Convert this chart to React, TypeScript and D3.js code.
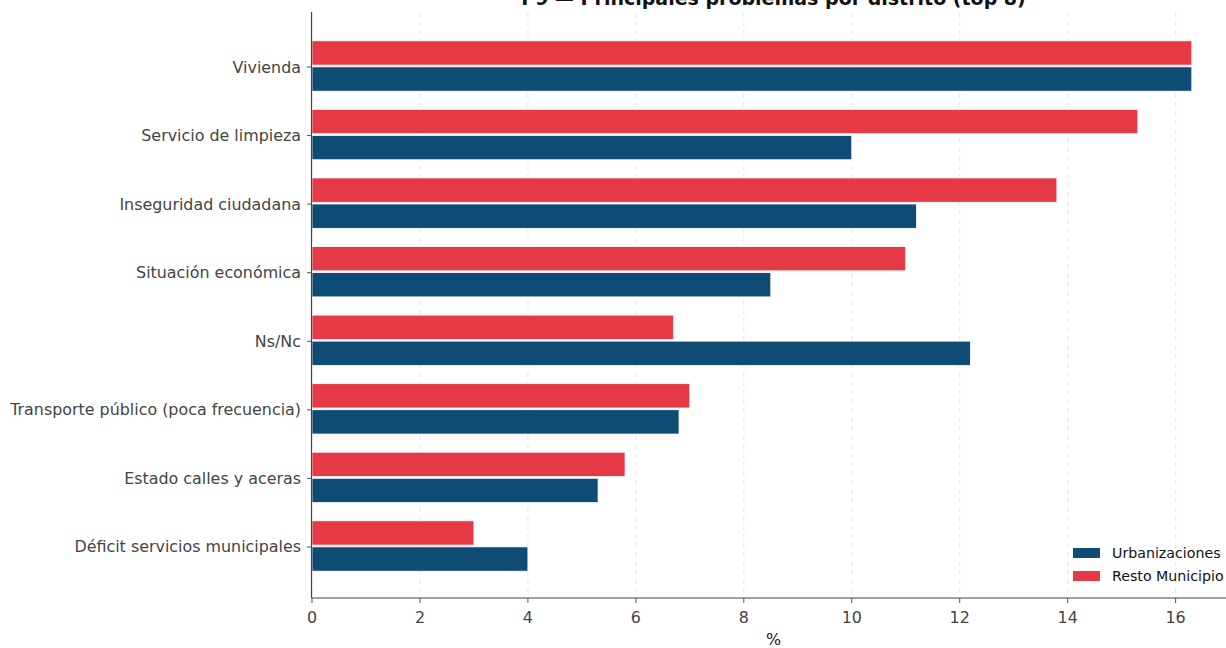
import React from "react";
import * as d3 from "d3";

const categories = [
  "Vivienda",
  "Servicio de limpieza",
  "Inseguridad ciudadana",
  "Situación económica",
  "Ns/Nc",
  "Transporte público (poca frecuencia)",
  "Estado calles y aceras",
  "Déficit servicios municipales",
];
const urbanizaciones = [16.3, 10.0, 11.2, 8.5, 12.2, 6.8, 5.3, 4.0];
const restoMunicipio = [16.3, 15.3, 13.8, 11.0, 6.7, 7.0, 5.8, 3.0];
const xTicks = [0, 2, 4, 6, 8, 10, 12, 14, 16];
const seriesNames = ["Urbanizaciones", "Resto Municipio"];
const colors = ["#0f4c75", "#e63946"];
const title = "P9 — Principales problemas por distrito (top 8)";
const xLabel = "%";

export default function App() {
  const W = 1226;
  const H = 648;
  const left = 312;
  const right = 1235;
  const top = 12;
  const bottom = 598;
  const x = d3.scaleLinear().domain([0, 17.1]).range([left, right]);
  const y = d3.scaleLinear().domain([0, 7]).range([66, 66 + 68.57 * 7]);
  const step = 68.57;
  const barH = 0.355 * step;
  const off = 0.19 * step;
  const font = "DejaVu Sans, sans-serif";
  const tickFs = 15.9;

  return (
    <svg width={W} height={H} style={{ position: "absolute", left: 0, top: 0 }}>
      <rect width={W} height={H} fill="#fff" />
      {/* grid */}
      {xTicks.map((t) => (
        <line key={"g" + t} x1={x(t)} x2={x(t)} y1={top} y2={bottom} stroke="#dcdcdc" strokeDasharray="5,4" strokeWidth={0.8} opacity={0.8} />
      ))}
      {/* bars */}
      {categories.map((c, i) => (
        <g key={c}>
          <rect x={x(0)} y={y(i) - off - barH / 2} width={x(restoMunicipio[i]) - x(0)} height={barH} fill={colors[1]} stroke="#fff" strokeWidth={0.8} />
          <rect x={x(0)} y={y(i) + off - barH / 2} width={x(urbanizaciones[i]) - x(0)} height={barH} fill={colors[0]} stroke="#fff" strokeWidth={0.8} />
        </g>
      ))}
      {/* spines */}
      <line x1={left - 0.5} x2={left - 0.5} y1={top} y2={bottom} stroke="#444" strokeWidth={1.2} />
      <line x1={left - 0.5} x2={right} y1={bottom} y2={bottom} stroke="#444" strokeWidth={1.2} />
      {/* y ticks */}
      {categories.map((c, i) => (
        <g key={"yt" + c}>
          <line x1={left - 5} x2={left - 0.5} y1={y(i) + 1} y2={y(i) + 1} stroke="#555" strokeWidth={1} />
          <text x={left - 11} y={y(i) + 1} textAnchor="end" dominantBaseline="central" fontFamily={font} fontSize={tickFs} fill="#444">{c}</text>
        </g>
      ))}
      {/* x ticks */}
      {xTicks.map((t) => (
        <g key={"xt" + t}>
          <line x1={x(t)} x2={x(t)} y1={bottom} y2={bottom + 5} stroke="#555" strokeWidth={1} />
          <text x={x(t)} y={bottom + 25} textAnchor="middle" fontFamily={font} fontSize={tickFs} fill="#444">{t}</text>
        </g>
      ))}
      <text x={(left + right) / 2} y={645} textAnchor="middle" fontFamily={font} fontSize={tickFs} fill="#222">{xLabel}</text>
      {/* title */}
      <text x={(left + right) / 2} y={5} textAnchor="middle" fontFamily={font} fontSize={19} fontWeight="bold" fill="#111">{title}</text>
      {/* legend */}
      {seriesNames.map((s, i) => (
        <g key={s}>
          <rect x={1073} y={548 + i * 23} width={27} height={10} fill={colors[i]} />
          <text x={1112} y={553 + i * 23} dominantBaseline="central" fontFamily={font} fontSize={14.2} fill="#111">{s}</text>
        </g>
      ))}
    </svg>
  );
}
